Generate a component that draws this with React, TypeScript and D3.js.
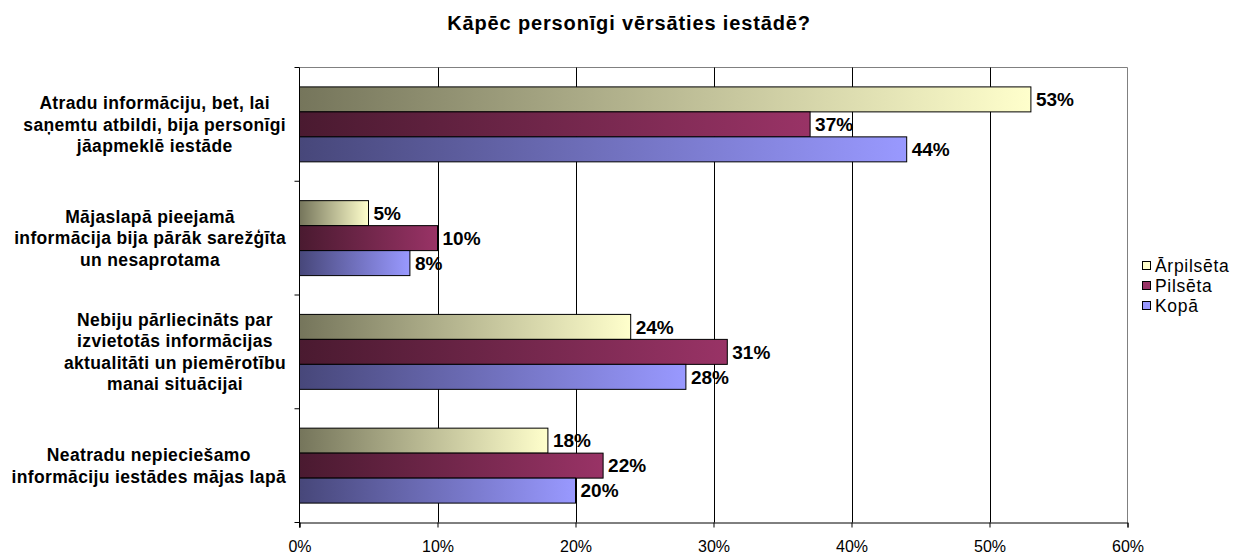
import React, { useEffect, useRef } from "react";
import * as d3 from "d3";

const title = "Kāpēc personīgi vērsāties iestādē?";
const categories = [
  "Atradu informāciju, bet, lai saņemtu atbildi, bija personīgi jāapmeklē iestāde",
  "Mājaslapā pieejamā informācija bija pārāk sarežģīta un nesaprotama",
  "Nebiju pārliecināts par izvietotās informācijas aktualitāti un piemērotību manai situācijai",
  "Neatradu nepieciešamo informāciju iestādes mājas lapā",
];
const categoryLines = [
  ["Atradu informāciju, bet, lai", "saņemtu atbildi, bija personīgi", "jāapmeklē iestāde"],
  ["Mājaslapā pieejamā", "informācija bija pārāk sarežģīta", "un nesaprotama"],
  ["Nebiju pārliecināts par", "izvietotās informācijas", "aktualitāti un piemērotību", "manai situācijai"],
  ["Neatradu nepieciešamo", "informāciju iestādes mājas lapā"],
];
const seriesNames = ["Ārpilsēta", "Pilsēta", "Kopā"];
const arpilseta = [53, 5, 24, 18];
const pilseta = [37, 10, 31, 22];
const kopa = [44, 8, 28, 20];
const seriesValues = [arpilseta, pilseta, kopa];
const tickValues = [0, 10, 20, 30, 40, 50, 60];
const gradStops = [
  ["#75755b", "#ffffcc"],
  ["#4a1a30", "#993366"],
  ["#47477a", "#9999ff"],
];

const FONT = "'Liberation Sans', Arial, sans-serif";

export default function App() {
  const ref = useRef<SVGSVGElement>(null);
  useEffect(() => {
    const svg = d3.select(ref.current);
    svg.selectAll("*").remove();
    const left = 299.5, right = 1127.5, top = 67.5, bottom = 522.5;
    const x = d3.scaleLinear().domain([0, 60]).range([left, right]);
    const y = d3.scaleBand<string>().domain(categories).range([top, bottom]).padding(0);
    const bw = y.bandwidth();
    const groupPad = 19.4;
    const ys = d3.scaleBand<string>().domain(seriesNames).range([groupPad, bw - groupPad]).padding(0);

    const defs = svg.append("defs");
    gradStops.forEach((g, i) => {
      const lg = defs.append("linearGradient").attr("id", "g" + i).attr("x1", 0).attr("x2", 1).attr("y1", 0).attr("y2", 0);
      lg.append("stop").attr("offset", "0%").attr("stop-color", g[0]);
      lg.append("stop").attr("offset", "100%").attr("stop-color", g[1]);
    });

    // title
    svg.append("text").attr("x", 629).attr("y", 30).attr("text-anchor", "middle")
      .attr("font-family", FONT).attr("font-weight", "bold").attr("font-size", 20)
      .attr("letter-spacing", 0.85).text(title);

    // plot border (gray)
    svg.append("line").attr("x1", left).attr("x2", right).attr("y1", top).attr("y2", top).attr("stroke", "#808080");
    svg.append("line").attr("x1", right).attr("x2", right).attr("y1", top).attr("y2", bottom).attr("stroke", "#808080");

    // gridlines
    svg.append("g").selectAll("line").data(tickValues.slice(1, -1)).join("line")
      .attr("x1", (d) => Math.round(x(d)) + 0.5).attr("x2", (d) => Math.round(x(d)) + 0.5)
      .attr("y1", top).attr("y2", bottom).attr("stroke", "#000");

    // bars
    seriesValues.forEach((vals, si) => {
      svg.append("g").selectAll("rect").data(vals).join("rect")
        .attr("x", left).attr("y", (d, i) => (y(categories[i]) as number) + (ys(seriesNames[si]) as number))
        .attr("width", (d) => x(d) - left).attr("height", ys.bandwidth())
        .attr("fill", `url(#g${si})`).attr("stroke", "#000").attr("stroke-width", 1);
      svg.append("g").selectAll("text").data(vals).join("text")
        .attr("x", (d) => x(d) + 5)
        .attr("y", (d, i) => (y(categories[i]) as number) + (ys(seriesNames[si]) as number) + ys.bandwidth() / 2)
        .attr("dy", "0.35em").attr("font-family", FONT).attr("font-weight", "bold").attr("font-size", 19)
        .text((d) => d + "%");
    });

    // x axis
    const xAxis = d3.axisBottom(x).tickValues(tickValues).tickFormat((d) => d + "%").tickSizeOuter(0).tickSize(5).tickPadding(13);
    const gx = svg.append("g").attr("transform", `translate(0,${bottom})`).call(xAxis);
    gx.select(".domain").attr("stroke", "#000");
    gx.selectAll("text").attr("font-family", FONT).attr("font-size", 16).attr("fill", "#000");

    // y axis
    svg.append("line").attr("x1", left).attr("x2", left).attr("y1", top).attr("y2", bottom + 5).attr("stroke", "#000");
    const bounds = categories.map((c) => y(c) as number).concat([bottom]);
    svg.append("g").selectAll("line").data(bounds).join("line")
      .attr("x1", left - 5).attr("x2", left).attr("y1", (d) => d).attr("y2", (d) => d).attr("stroke", "#000");

    // category labels
    const lineH = 21.5;
    categories.forEach((c, i) => {
      const lines = categoryLines[i];
      const cy = (y(c) as number) + bw / 2;
      const g = svg.append("g");
      const texts = g.selectAll("text").data(lines).join("text")
        .attr("y", (d, j) => cy + (j - (lines.length - 1) / 2) * lineH)
        .attr("dy", "0.35em").attr("text-anchor", "middle")
        .attr("font-family", FONT).attr("font-weight", "bold").attr("font-size", 17.5)
        .attr("letter-spacing", 0.35)
        .text((d) => d);
      let maxW = 0;
      texts.each(function () {
        maxW = Math.max(maxW, (this as SVGTextElement).getComputedTextLength());
      });
      texts.attr("x", 286 - maxW / 2);
    });

    // legend
    const legY = [266, 286, 306];
    seriesNames.forEach((s, i) => {
      svg.append("rect").attr("x", 1142.5).attr("y", legY[i] - 4.5).attr("width", 8).attr("height", 8)
        .attr("fill", gradStops[i][1]).attr("stroke", "#000");
      svg.append("text").attr("x", 1155).attr("y", legY[i]).attr("dy", "0.35em")
        .attr("font-family", FONT).attr("font-size", 17.5).attr("letter-spacing", 0.7).text(s);
    });
  }, []);
  return (
    <svg ref={ref} width={1257} height={556} style={{ position: "absolute", left: 0, top: 0, background: "#fff" }} />
  );
}
